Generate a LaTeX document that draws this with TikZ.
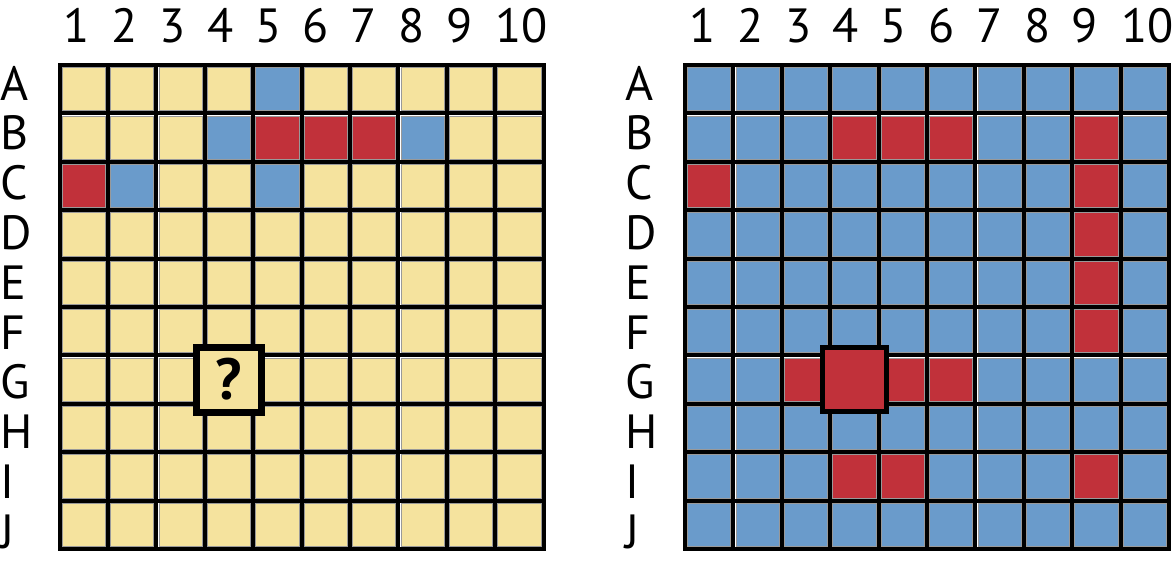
\documentclass[tikz,border=0pt]{standalone}
\usepackage{fontspec}
\setmainfont{PT Sans}
\definecolor{cyel}{HTML}{F5E39E}
\definecolor{cblu}{HTML}{6A9BCB}
\definecolor{cred}{HTML}{C1313A}
\newcommand\gcell[4]{% #1 origin x, #2 column, #3 row, #4 colour
  \filldraw[#4, draw=black!40, line width=0.8pt]
    ({#1+(#2-1)*48.4+2.6},{65+(#3-1)*48.4+2.6}) rectangle ++(43.2,43.2);}
\newcommand\glines[1]{%
  \foreach \i in {0,...,10} {
    \draw[gridline] ({#1+\i*48.4},65) -- ({#1+\i*48.4},549);
    \draw[gridline] (#1,{65+\i*48.4}) -- ({#1+484},{65+\i*48.4});
  }}
\begin{document}
\begin{tikzpicture}[x=1pt,y=-1pt,
  lbl/.style={inner sep=0pt, font=\fontsize{48}{52}\selectfont},
  gridline/.style={line width=4pt, line cap=rect, black},
  bigbox/.style={draw=black, minimum size=65pt, inner sep=0pt}]
\useasboundingbox (0,0) rectangle (1173,563);

% ---- left grid ----
\foreach \c in {1,...,10}{\foreach \r in {1,...,10}{\gcell{59.5}{\c}{\r}{cyel}}}
\foreach \c/\r/\col in {5/1/cblu,4/2/cblu,5/2/cred,6/2/cred,7/2/cred,8/2/cblu,1/3/cred,2/3/cblu,5/3/cblu}
  {\gcell{59.5}{\c}{\r}{\col}}
\glines{59.5}
\node[bigbox, line width=7pt, fill=cyel, font=\fontsize{58}{62}\selectfont\bfseries] (qbox) at (228.9,379.6) {?};

% ---- right grid ----
\foreach \c in {1,...,10}{\foreach \r in {1,...,10}{\gcell{685}{\c}{\r}{cblu}}}
\foreach \c/\r in {4/2,5/2,6/2,9/2,1/3,9/3,9/4,9/5,9/6,3/7,4/7,5/7,6/7,4/9,5/9,9/9}
  {\gcell{685}{\c}{\r}{cred}}
\glines{685}
\node[bigbox, line width=5pt, minimum size=64pt, fill=cred] (hit) at (854.4,379.6) {};

% ---- labels ----
\foreach \k in {1,...,9}{
  \node[lbl, anchor=base] (nl\k) at ({77+(\k-1)*47.8},42) {\k};
  \node[lbl, anchor=base] (nr\k) at ({702.5+(\k-1)*47.8},42) {\k};
}
\node[lbl, anchor=base] (nl10) at (521.7,42) {10};
\node[lbl, anchor=base] (nr10) at (1147.2,42) {10};
\foreach \L [count=\k from 0] in {A,B,C,D,E,F,G,H,I,J}{
  \node[lbl, anchor=base west] (ll\L) at (0,{100+\k*49.8}) {\L};
  \node[lbl, anchor=base west] (lr\L) at (625.5,{100+\k*49.8}) {\L};
}
\end{tikzpicture}
\end{document}
